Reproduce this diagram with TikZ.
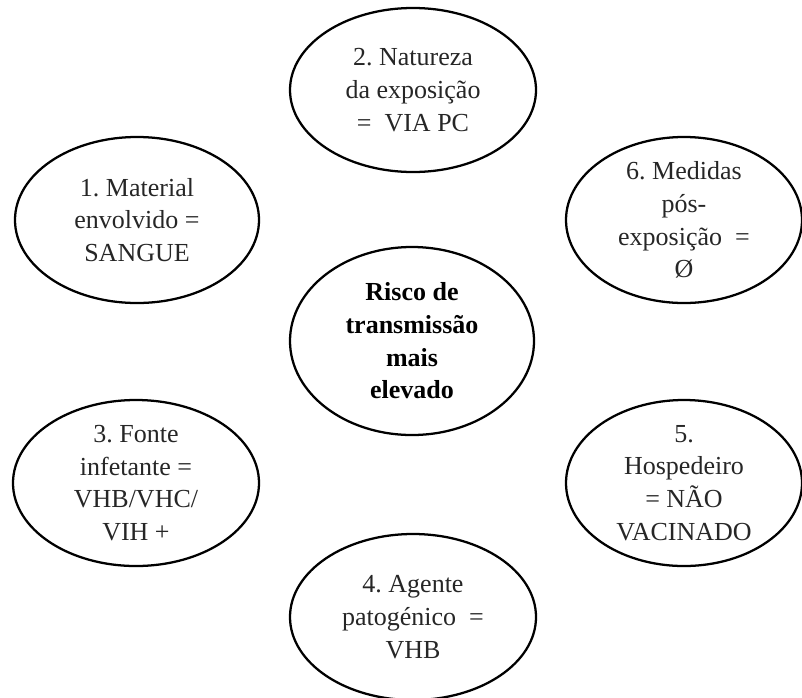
\documentclass[tikz,border=0pt]{standalone}
\usepackage{fontspec}
\setmainfont{Liberation Serif}
\usetikzlibrary{shapes.geometric}
\frenchspacing
\tikzset{
  bubble/.style={ellipse, draw=black, line width=1.7pt, inner sep=0pt, align=center,
    font=\fontsize{19.5}{24.5}\selectfont, text=black!85},
  centerbubble/.style={bubble, font=\fontsize{19.5}{24.5}\selectfont\bfseries, text=black}
}
\begin{document}
\begin{tikzpicture}[x=0.75pt,y=-0.75pt]
\useasboundingbox (0,0) rectangle (802,697);
\node[bubble, minimum width=183pt, minimum height=124.5pt] (m1) at (137,220) {1. Material\\envolvido =\\SANGUE};
\node[bubble, minimum width=184.5pt, minimum height=123pt] (m2) at (413,90) {2. Natureza\\da exposição\\=\ \ VIA PC};
\node[bubble, minimum width=177pt, minimum height=124.5pt] (m6) at (684,220) {6. Medidas\\pós-\\exposição\ \ =\\Ø};
\node[centerbubble, minimum width=183pt, minimum height=141pt] (c) at (412,341) {Risco de\\transmissão\\mais\\elevado};
\node[bubble, minimum width=184.5pt, minimum height=124.5pt] (m3) at (136,483) {3. Fonte\\infetante =\\VHB/VHC/\\VIH +};
\node[bubble, minimum width=177pt, minimum height=124.5pt] (m5) at (684,483) {5.\\Hospedeiro\\= NÃO\\VACINADO};
\node[bubble, minimum width=184.5pt, minimum height=124.5pt] (m4) at (413,617) {4. Agente\\patogénico\ \ =\\VHB};
\end{tikzpicture}
\end{document}
